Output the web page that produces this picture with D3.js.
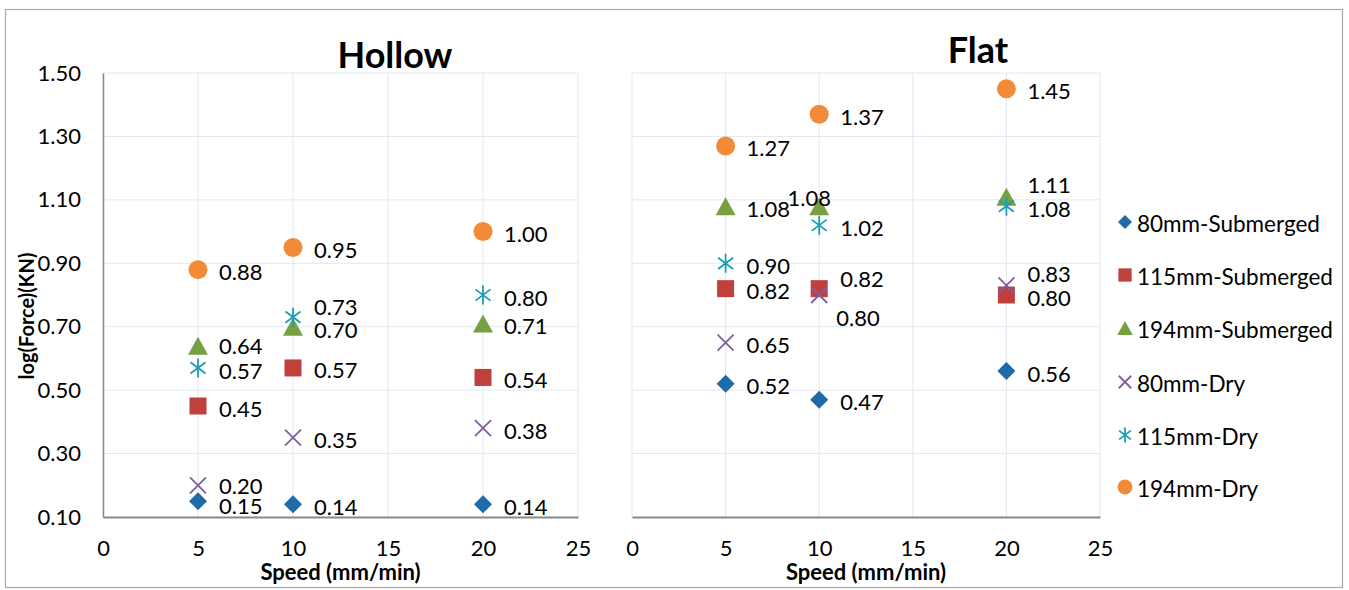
<!DOCTYPE html>
<html>
<head>
<meta charset="utf-8">
<script src="https://cdn.jsdelivr.net/npm/d3@7"></script>
<style>
  html, body { margin: 0; padding: 0; background: #fff; }
  svg { display: block; font-family: Lato, "Open Sans", sans-serif; }
</style>
</head>
<body>
<svg id="chart" width="1349" height="590"></svg>
<script>
// ---------------- data ----------------
const speeds = [5, 10, 20];
const seriesNames = ["80mm-Submerged", "115mm-Submerged", "194mm-Submerged", "80mm-Dry", "115mm-Dry", "194mm-Dry"];
const panelTitles = ["Hollow", "Flat"];

const hollow80Sub  = [0.15, 0.14, 0.14];
const hollow115Sub = [0.45, 0.57, 0.54];
const hollow194Sub = [0.64, 0.70, 0.71];
const hollow80Dry  = [0.20, 0.35, 0.38];
const hollow115Dry = [0.57, 0.73, 0.80];
const hollow194Dry = [0.88, 0.95, 1.00];

const flat80Sub  = [0.52, 0.47, 0.56];
const flat115Sub = [0.82, 0.82, 0.80];
const flat194Sub = [1.08, 1.08, 1.11];
const flat80Dry  = [0.65, 0.80, 0.83];
const flat115Dry = [0.90, 1.02, 1.08];
const flat194Dry = [1.27, 1.37, 1.45];

const xTicks = [0, 5, 10, 15, 20, 25];
const yTicks = [0.10, 0.30, 0.50, 0.70, 0.90, 1.10, 1.30, 1.50];

// ---------------- styles ----------------
const colors = ["#1f6aa8", "#c0403e", "#77a041", "#7f5f9e", "#1c9db5", "#f28a37"];
const shapes = ["diamond", "square", "triangle", "cross", "asterisk", "circle"];
// label nudges [dx, dy, anchor] keyed panel-series-point (Excel label placement)
const labelNudge = {
  "0-0-0": [0, 2],
  "0-3-0": [0, -2],
  "0-2-0": [0, -2],
  "0-4-0": [0, 1],
  "0-2-1": [0, 1],
  "0-4-1": [0, -13],
  "1-2-1": [-31, -11, "middle"],
  "1-3-1": [-4, 20],
  "1-1-1": [0, -12],
  "1-2-2": [0, -14],
  "1-3-2": [0, -14]
};

const panels = [
  { title: panelTitles[0], series: [hollow80Sub, hollow115Sub, hollow194Sub, hollow80Dry, hollow115Dry, hollow194Dry], x0: 103, x1: 578, showY: true, titleX: 395, titleY: 68 },
  { title: panelTitles[1], series: [flat80Sub, flat115Sub, flat194Sub, flat80Dry, flat115Dry, flat194Dry], x0: 632, x1: 1100, showY: false, titleX: 978, titleY: 63 }
];

const svg = d3.select("#chart");
const y = d3.scaleLinear().domain([0.1, 1.5]).range([517, 73]);

// outer border
svg.append("rect").attr("x", 5.5).attr("y", 9.5).attr("width", 1337).attr("height", 578)
  .attr("fill", "none").attr("stroke", "#a8a8a8").attr("stroke-width", 1.2);

function drawMarker(g, shape, color, s) {
  if (shape === "diamond") {
    const h = 9 * s;
    g.append("path").attr("d", `M0,${-h}L${h},0L0,${h}L${-h},0Z`).attr("fill", color);
  } else if (shape === "square") {
    const h = 8.5 * s;
    g.append("rect").attr("x", -h).attr("y", -h).attr("width", 2 * h).attr("height", 2 * h).attr("fill", color);
  } else if (shape === "triangle") {
    const w = 10 * s, h = 9 * s;
    g.append("path").attr("d", `M0,${-h}L${w},${h}L${-w},${h}Z`).attr("fill", color);
  } else if (shape === "cross") {
    const h = 8 * s;
    g.append("path").attr("d", `M${-h},${-h}L${h},${h}M${-h},${h}L${h},${-h}`)
      .attr("stroke", color).attr("stroke-width", 1.8).attr("fill", "none");
  } else if (shape === "asterisk") {
    const h = 7.5 * s, v = 9.5 * s;
    g.append("path").attr("d", `M${-h},${-h * 0.75}L${h},${h * 0.75}M${-h},${h * 0.75}L${h},${-h * 0.75}M0,${-v}L0,${v}`)
      .attr("stroke", color).attr("stroke-width", 1.8).attr("fill", "none");
  } else if (shape === "circle") {
    g.append("circle").attr("r", 9.5 * s).attr("fill", color);
  }
}

panels.forEach((p, pi) => {
  const x = d3.scaleLinear().domain([0, 25]).range([p.x0, p.x1]);
  const g = svg.append("g");

  // gridlines
  g.selectAll(".vg").data(xTicks).join("line")
    .attr("x1", d => x(d)).attr("x2", d => x(d)).attr("y1", y(1.5)).attr("y2", y(0.1))
    .attr("stroke", "#e1e8f1").attr("stroke-width", 1);
  g.selectAll(".hg").data(yTicks).join("line")
    .attr("x1", x(0)).attr("x2", x(25)).attr("y1", d => y(d)).attr("y2", d => y(d))
    .attr("stroke", "#e1e8f1").attr("stroke-width", 1);

  // x axis
  const xAxis = d3.axisBottom(x).tickValues(xTicks).tickSize(0).tickPadding(23).tickFormat(d3.format("d"));
  const xa = g.append("g").attr("transform", `translate(0,${y(0.1)})`).call(xAxis);
  xa.select(".domain").attr("stroke", "#8a8a8a").attr("stroke-width", 2);
  xa.selectAll("text").attr("font-size", 22).attr("fill", "#000").attr("font-family", "Lato, 'Open Sans', sans-serif");

  if (p.showY) {
    const yAxis = d3.axisLeft(y).tickValues(yTicks).tickSize(0).tickPadding(22).tickFormat(d3.format(".2f"));
    const ya = g.append("g").attr("transform", `translate(${x(0)},0)`).call(yAxis);
    ya.select(".domain").attr("stroke", "#8a8a8a").attr("stroke-width", 1.5);
    ya.selectAll("text").attr("font-size", 22).attr("fill", "#000").attr("font-family", "Lato, 'Open Sans', sans-serif");
  }

  // title
  svg.append("text").attr("x", p.titleX).attr("y", p.titleY).attr("text-anchor", "middle")
    .attr("font-size", 36).attr("font-weight", "bold").text(p.title);

  // x axis title
  svg.append("text").attr("x", (p.x0 + p.x1) / 2).attr("y", 580).attr("text-anchor", "middle")
    .attr("font-size", 22).attr("font-weight", "bold").text("Speed (mm/min)");

  // points
  p.series.forEach((vals, si) => {
    vals.forEach((v, i) => {
      const cx = x(speeds[i]), cy = y(v);
      const m = g.append("g").attr("transform", `translate(${cx},${cy})`);
      drawMarker(m, shapes[si], colors[si], 1);
    });
  });
  // labels
  p.series.forEach((vals, si) => {
    vals.forEach((v, i) => {
      const cx = x(speeds[i]), cy = y(v);
      const n = labelNudge[`${pi}-${si}-${i}`] || [0, 0];
      const anchor = n[2] || "start";
      g.append("text")
        .attr("x", cx + 21 + n[0]).attr("y", cy + 2 + n[1])
        .attr("dominant-baseline", "central").attr("text-anchor", anchor)
        .attr("font-size", 22).attr("fill", "#000").text(d3.format(".2f")(v));
    });
  });
});

// y axis title
svg.append("text").attr("transform", "translate(34,316) rotate(-90)").attr("text-anchor", "middle")
  .attr("font-size", 20).attr("font-weight", "bold").text("log(Force)(KN)");

// legend
const legendRowY = [222, 275, 328, 382, 435, 487];
const lg = svg.append("g");
seriesNames.forEach((name, si) => {
  const m = lg.append("g").attr("transform", `translate(1125,${legendRowY[si]})`);
  drawMarker(m, shapes[si], colors[si], 0.78);
  lg.append("text").attr("x", 1137).attr("y", legendRowY[si] + 1).attr("dominant-baseline", "central")
    .attr("font-size", 22.5).attr("fill", "#000").text(name);
});
</script>
</body>
</html>
